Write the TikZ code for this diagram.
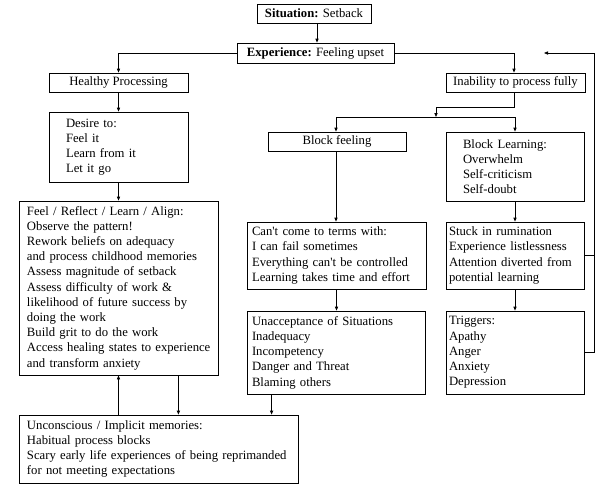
\documentclass[tikz,border=0pt]{standalone}
\usepackage{fontspec}
\setmainfont{Liberation Serif}
\usetikzlibrary{arrows.meta}
\begin{document}
\begin{tikzpicture}[x=1pt,y=-1pt,
  every node/.style={font=\fontsize{12.7}{15.2}\selectfont},
  box/.style={draw,line width=0.8pt,inner ysep=0pt,align=left},
  cbox/.style={draw,line width=0.8pt,inner sep=0pt,align=center},
  conn/.style={line width=0.8pt},
  arr/.style={line width=0.8pt,-{Triangle[length=4pt,width=3.2pt]}}]
\useasboundingbox (0,0) rectangle (606,491);
% boxes
\node[cbox,minimum width=114pt,minimum height=19pt] (sit) at (314,13.5) {\textbf{Situation:} Setback};
\node[cbox,minimum width=157pt,minimum height=20pt] (exp) at (315.5,53) {\textbf{Experience:} Feeling upset};
\node[cbox,minimum width=139pt,minimum height=19pt] (hp) at (118.5,82.5) {Healthy Processing};
\node[cbox,minimum width=139pt,minimum height=19pt] (inab) at (515.5,82.5) {Inability to process fully};
\node[cbox,minimum width=138pt,minimum height=19pt] (bf) at (337,141.5) {Block feeling};
\node[box,inner xsep=17pt,text width=105pt,minimum height=70pt] (des) at (118.5,147) {Desire to:\\Feel it\\Learn from it\\Let it go};
\node[box,inner xsep=8pt,text width=183pt,minimum height=174pt] (feel) at (118.5,288) {Feel / Reflect / Learn / Align:\\Observe the pattern!\\Rework beliefs on adequacy\\and process childhood memories\\Assess magnitude of setback\\Assess difficulty of work \&\\likelihood of future success by\\doing the work\\Build grit to do the work\\\mbox{Access healing states to experience}\\and transform anxiety};
\node[box,inner xsep=8pt,text width=263pt,minimum height=68pt] (unc) at (158.5,449) {Unconscious / Implicit memories:\\Habitual process blocks\\\mbox{Scary early life experiences of being reprimanded}\\for not meeting expectations};
\node[box,inner xsep=17pt,text width=104pt,minimum height=69pt] (bl) at (515,166.5) {Block Learning:\\Overwhelm\\Self-criticism\\Self-doubt};
\node[box,inner xsep=5pt,text width=169pt,minimum height=67pt] (cant) at (336.5,255.5) {Can\textquotesingle t come to terms with:\\I can fail sometimes\\Everything can\textquotesingle t be controlled\\Learning takes time and effort};
\node[box,inner xsep=3pt,text width=132pt,minimum height=67pt] (stuck) at (515,255.5) {Stuck in rumination\\Experience listlessness\\Attention diverted from\\potential learning};
\node[box,inner xsep=5pt,text width=168pt,minimum height=83pt] (unacc) at (336,352.5) {Unacceptance of Situations\\Inadequacy\\Incompetency\\Danger and Threat\\Blaming others};
\node[box,inner xsep=3pt,text width=132pt,minimum height=83pt] (trig) at (515,352.5) {Triggers:\\Apathy\\Anger\\Anxiety\\Depression};
% coordinates
\coordinate (bar) at (436,117);
\coordinate (fb) at (594,53);
\coordinate (fbtip) at (544,53);
% connectors
\draw[arr] ([xshift=3pt]sit.south) -- ([xshift=3pt]sit.south |- exp.north);
\draw[arr] (exp.west) -| (hp.north);
\draw[arr] (exp.east) -| ([xshift=-1.5pt]inab.north);
\draw[arr] (hp.south) -- (des.north);
\draw[arr] (des.south) -- (feel.south |- feel.north);
\draw[arr] ([xshift=-1.5pt]inab.south) -- ++(0,15) -| (bar);
\draw[arr] (bar) -| ([xshift=-1pt]bf.north);
\draw[arr] (bar) -| (bl.north);
\draw[arr] ([xshift=-1pt]bf.south) -- ([xshift=-1pt]bf.south |- cant.north);
\draw[arr] (bl.south) -- (stuck.north);
\draw[arr] (cant.south) -- (cant.south |- unacc.north);
\draw[arr] (stuck.south) -- (trig.north);
\draw[arr] ([xshift=25pt]unacc.south west) -- ([xshift=25pt]unacc.south west |- unc.north);
\draw[arr] (feel.south |- unc.north) -- (feel.south);
\draw[arr] ([xshift=-40pt]feel.south east) -- ([xshift=-40pt]feel.south east |- unc.north);
\draw[conn] (stuck.east) -- (stuck.east -| fb);
\draw[arr] (trig.east) -| (fb) -- (fbtip);
\end{tikzpicture}
\end{document}
